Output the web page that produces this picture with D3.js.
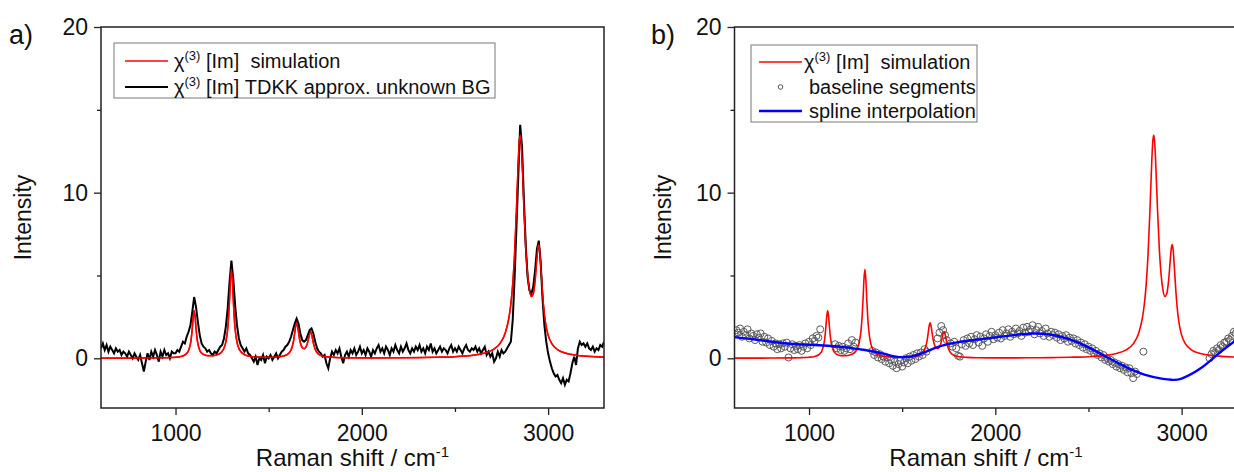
<!DOCTYPE html>
<html><head><meta charset="utf-8">
<script src="https://cdn.jsdelivr.net/npm/d3@7"></script>
<style>
html,body{margin:0;padding:0;background:#fff;}
text{font-family:"Liberation Sans",Arial,sans-serif;fill:#111;}
</style></head>
<body><svg id="c" width="1234" height="472"></svg>
<script>
// ---------- data ----------
const xDomain = [600, 3300];
const yDomain = [-3, 20];
const xTicksMajor = [1000, 2000, 3000];
const xTicksMinor = [1500, 2500];
const yTicksMajor = [0, 10, 20];
const yTicksMinor = [5, 15];

// simulated chi(3) Im spectrum
const simX = [600,700,800,900,950,1000,1030,1050,1060,1070,1080,1085,1090,1095,1100,1105,1110,1115,1120,1130,1140,1150,1170,1200,1230,1250,1260,1270,1280,1285,1290,1295,1300,1305,1310,1315,1320,1330,1340,1350,1370,1400,1450,1500,1550,1580,1600,1615,1625,1635,1640,1645,1650,1655,1660,1670,1680,1690,1700,1710,1715,1720,1725,1730,1740,1750,1760,1780,1800,1850,1900,2000,2100,2200,2300,2400,2500,2600,2650,2700,2740,2770,2790,2800,2810,2820,2830,2840,2845,2850,2855,2860,2870,2880,2890,2900,2910,2920,2930,2940,2945,2950,2955,2960,2970,2980,2990,3000,3020,3050,3100,3150,3200,3300];
const simY = [0.01,0.01,0.014,0.024,0.035,0.065,0.115,0.20,0.30,0.475,0.87,1.25,1.82,2.51,2.88,2.52,1.83,1.26,0.885,0.49,0.32,0.233,0.162,0.156,0.24,0.415,0.61,0.975,1.78,2.51,3.56,4.77,5.37,4.77,3.56,2.50,1.77,0.97,0.60,0.41,0.22,0.12,0.07,0.062,0.085,0.14,0.23,0.40,0.65,1.15,1.55,1.95,2.14,1.97,1.58,0.94,0.65,0.58,0.675,0.99,1.24,1.49,1.60,1.47,0.92,0.54,0.34,0.17,0.11,0.055,0.037,0.028,0.027,0.033,0.043,0.063,0.098,0.19,0.29,0.49,0.87,1.53,2.47,3.28,4.48,6.31,8.93,11.94,13.04,13.47,13.09,12.04,9.16,6.68,5.04,4.11,3.73,3.88,4.67,6.06,6.67,6.86,6.49,5.69,3.91,2.65,1.88,1.40,0.88,0.53,0.29,0.185,0.13,0.074];

// TDKK approximation with unknown background (black curve), 600..3300 step 10
const tdkkStart = 600, tdkkStep = 10;
const tdkkY = [
0.6,0.9,0.5,0.8,0.4,0.7,0.5,0.3,0.6,0.4,
0.5,0.2,0.4,0.3,0.1,0.4,0.2,0.0,0.3,0.1,
-0.1,0.2,-0.3,-0.8,-0.2,0.3,-0.1,0.4,0.1,0.5,
0.2,-0.2,0.4,0.1,0.5,0.2,0.3,0.0,0.4,0.3,
0.3,0.5,0.4,0.7,1.0,0.9,1.3,1.6,2.0,2.8,
3.7,3.1,2.2,1.4,0.9,0.7,0.6,0.4,0.5,0.3,
0.2,0.4,0.3,0.5,0.7,0.8,1.2,1.9,3.0,4.6,
5.9,4.8,3.2,2.0,1.2,0.8,0.6,0.4,0.6,0.3,
0.2,0.0,-0.2,0.1,-0.4,0.0,-0.1,0.2,-0.3,0.1,
0.0,0.2,-0.1,0.1,0.3,0.0,0.2,0.4,0.5,0.7,
0.8,1.0,1.3,1.7,2.1,2.4,2.1,1.5,1.1,1.0,
1.1,1.4,1.7,1.8,1.5,1.0,0.6,0.4,0.3,0.1,
0.2,-0.3,-0.6,0.0,0.4,0.2,0.5,0.3,0.6,0.1,
-0.3,0.2,0.4,0.1,0.5,0.3,0.6,0.2,0.4,0.7,
0.3,0.5,0.2,0.6,0.4,0.1,0.5,0.3,0.6,0.8,
0.4,0.6,0.3,0.7,0.5,0.2,0.6,0.4,0.8,0.5,
0.3,0.7,0.4,0.6,0.9,0.5,0.3,0.6,0.4,0.7,
0.5,0.8,0.4,0.6,0.3,0.7,0.5,0.9,0.4,0.6,
0.3,0.5,0.7,0.4,0.6,0.5,0.3,0.6,0.8,0.4,
0.6,0.4,0.7,0.5,0.3,0.6,0.8,0.5,0.4,0.6,
0.5,0.7,0.4,0.6,0.3,0.5,0.7,0.2,0.4,0.1,
0.3,-0.2,0.0,0.4,0.1,0.5,0.3,0.4,0.6,0.8,
1.0,2.3,4.8,7.9,11.0,14.1,12.8,9.6,6.8,4.9,
4.1,3.9,4.3,5.3,6.6,7.1,5.8,3.6,2.0,1.0,
0.3,-0.2,-0.6,-0.9,-1.1,-1.0,-1.3,-1.5,-1.2,-1.6,
-1.3,-1.4,-0.9,-0.3,0.1,-0.4,0.6,1.0,0.8,0.9,
0.7,0.9,0.6,0.5,0.7,0.4,0.6,0.5,0.8,0.7,
1.0];

// baseline segments (open circles)
const baseX = [600,610,620,630,640,650,660,670,680,690,700,710,720,730,740,750,760,770,780,790,800,810,820,830,840,850,860,870,880,890,900,910,920,930,940,950,960,970,980,990,1000,1010,1020,1030,1040,1050,1060,
1140,1150,1160,1170,1180,1190,1200,1210,1220,1230,1240,1250,
1340,1350,1360,1370,1380,1390,1400,1410,1420,1430,1440,1450,1460,1470,1480,1490,1500,1510,1520,1530,1540,1550,1560,1570,1580,1590,1600,1610,1620,1630,
1690,1700,1710,1720,1730,1740,
1760,1770,1780,1790,1800,1810,1820,1830,1840,1850,1860,1870,1880,1890,1900,1910,1920,1930,1940,1950,1960,1970,1980,1990,2000,2010,2020,2030,2040,2050,2060,2070,2080,2090,2100,2110,2120,2130,2140,2150,2160,2170,2180,2190,2200,2210,2220,2230,2240,2250,2260,2270,2280,2290,2300,2310,2320,2330,2340,2350,2360,2370,2380,2390,2400,2410,2420,2430,2440,2450,2460,2470,2480,2490,2500,2510,2520,2530,2540,2550,2560,2570,2580,2590,2600,2610,2620,2630,2640,2650,2660,2670,2680,2690,2700,2710,2720,2730,2740,2750,2760,
2795,
3150,3160,3170,3180,3190,3200,3210,3220,3230,3240,3250,3260,3270,3280,3290,3300];
const baseY = [1.45,1.7,1.55,1.8,1.3,1.6,1.4,1.75,1.2,1.5,1.35,1.1,1.45,1.25,1.5,1.0,1.3,0.95,1.2,0.8,1.05,0.7,0.9,0.55,0.85,0.6,0.9,0.7,0.95,0.05,0.6,0.85,0.5,0.75,0.55,0.8,0.45,0.7,0.9,0.6,1.0,0.8,1.2,1.05,1.35,1.25,1.75,
0.85,0.6,0.75,0.5,0.7,0.45,0.6,0.9,0.55,1.1,0.7,0.95,
0.45,0.2,0.35,0.05,0.25,-0.05,0.1,-0.2,0.05,-0.3,-0.1,-0.45,-0.2,-0.6,-0.35,-0.15,-0.5,-0.25,0.0,-0.3,0.1,-0.15,0.2,-0.05,0.3,0.1,0.35,0.2,0.55,0.4,
1.2,1.55,1.95,1.7,1.4,1.1,
0.9,0.7,1.0,0.6,0.15,0.1,0.85,1.1,0.75,1.2,0.9,1.3,0.8,1.15,1.4,0.95,1.3,0.75,1.2,1.45,1.0,1.35,1.6,1.15,1.4,1.25,1.55,1.2,1.7,1.35,1.5,1.75,1.3,1.6,1.45,1.8,1.5,1.65,1.35,1.85,1.55,1.9,1.6,1.75,2.0,1.45,1.7,1.9,1.5,1.65,1.35,1.8,1.5,1.3,1.6,1.4,1.55,1.25,1.45,1.1,1.35,1.2,1.4,1.0,1.25,1.05,1.2,0.9,1.1,0.8,0.95,0.65,0.85,0.55,0.7,0.45,0.6,0.3,0.45,0.2,0.3,0.05,0.2,-0.1,0.0,-0.2,-0.1,-0.35,-0.25,-0.5,-0.35,-0.6,-0.45,-0.7,-0.55,-0.85,-0.6,-0.9,-1.2,-0.8,-0.95,
0.4,
0.0,0.25,0.45,0.35,0.6,0.5,0.8,0.7,0.95,1.0,1.2,1.1,1.35,1.6,1.5,1.75];

// spline interpolation through the baseline (blue curve)
const splineX = [600,700,800,900,1000,1100,1200,1300,1400,1500,1600,1700,1800,1900,2000,2100,2200,2300,2400,2500,2600,2700,2800,2900,2950,3000,3100,3200,3300];
const splineY = [1.28,1.15,1.0,0.88,0.82,0.76,0.66,0.5,0.28,0.06,0.28,0.72,0.98,1.12,1.26,1.4,1.5,1.42,1.14,0.66,0.06,-0.52,-0.98,-1.24,-1.3,-1.22,-0.62,0.3,1.15];

const legendA = ["simulation", "TDKK approx. unknown BG"];
const legendB = ["simulation", "baseline segments", "spline interpolation"];

// ---------- drawing ----------
const svg = d3.select("#c");
const FONT = '"Liberation Sans",Arial,sans-serif';

function panel(opt) {
  const x = d3.scaleLinear().domain(xDomain).range([opt.left, opt.right]);
  const y = d3.scaleLinear().domain(yDomain).range([opt.bottom, opt.top]);
  const g = svg.append("g");
  const clipId = "clip" + opt.id;
  svg.append("clipPath").attr("id", clipId).append("rect")
    .attr("x", opt.left).attr("y", opt.top)
    .attr("width", opt.right - opt.left).attr("height", opt.bottom - opt.top);

  // axes
  const xa = g.append("g").attr("transform", `translate(0,${opt.bottom})`)
    .call(d3.axisBottom(x).tickValues(xTicksMajor).tickSize(7).tickSizeOuter(0).tickPadding(10).tickFormat(d3.format("d")));
  xa.select(".domain").remove();
  g.append("g").attr("transform", `translate(0,${opt.bottom})`)
    .call(d3.axisBottom(x).tickValues(xTicksMinor).tickSize(4).tickSizeOuter(0).tickFormat(""))
    .select(".domain").remove();
  const ya = g.append("g").attr("transform", `translate(${opt.left},0)`)
    .call(d3.axisLeft(y).tickValues(yTicksMajor).tickSize(7).tickSizeOuter(0).tickPadding(6).tickFormat(d3.format("d")));
  ya.select(".domain").remove();
  g.append("g").attr("transform", `translate(${opt.left},0)`)
    .call(d3.axisLeft(y).tickValues(yTicksMinor).tickSize(4).tickSizeOuter(0).tickFormat(""))
    .select(".domain").remove();
  g.selectAll(".tick line").attr("stroke", "#222").attr("stroke-width", 1.3);
  g.selectAll(".tick text").attr("font-family", FONT).attr("font-size", 23).attr("fill", "#111");

  const plot = g.append("g").attr("clip-path", `url(#${clipId})`);
  opt.drawData(plot, x, y);

  // frame
  g.append("rect").attr("x", opt.left).attr("y", opt.top)
    .attr("width", opt.right - opt.left).attr("height", opt.bottom - opt.top)
    .attr("fill", "none").attr("stroke", "#222").attr("stroke-width", 1.5);

  // titles
  g.append("text").attr("x", (opt.left + opt.right) / 2).attr("y", 466)
    .attr("text-anchor", "middle").attr("font-size", 24)
    .text("Raman shift / cm").append("tspan").attr("dy", -9).attr("font-size", 15).text("-1");
  g.append("text").attr("transform", `translate(${opt.yTitleX},${(opt.top + opt.bottom) / 2}) rotate(-90)`)
    .attr("text-anchor", "middle").attr("font-size", 23).text("Intensity");
  g.append("text").attr("x", opt.labelX).attr("y", 44).attr("font-size", 27).text(opt.label);

  return {x, y, g};
}

function chiLabel(sel, x, yb, rest) {
  const t = sel.append("text").attr("x", x).attr("y", yb).attr("font-size", 20)
    .style("white-space", "pre");
  t.append("tspan").text("\u03c7");
  t.append("tspan").attr("dy", -8).attr("font-size", 13).text("(3)");
  t.append("tspan").attr("dy", 8).text(rest);
}

// panel a
const A = panel({id: "a", left: 101, right: 604, top: 27, bottom: 408, label: "a)", labelX: 9, yTitleX: 31,
  drawData(p, x, y) {
    p.append("path").datum(simX.map((v, i) => [v, simY[i]]))
      .attr("fill", "none").attr("stroke", "#ff0000").attr("stroke-width", 1.6)
      .attr("d", d3.line().x(d => x(d[0])).y(d => y(d[1])).curve(d3.curveMonotoneX));
    p.append("path").datum(tdkkY.map((v, i) => [tdkkStart + i * tdkkStep, v]))
      .attr("fill", "none").attr("stroke", "#000").attr("stroke-width", 2)
      .attr("d", d3.line().x(d => x(d[0])).y(d => y(d[1])));
    p.append("path").datum(simX.map((v, i) => [v, simY[i]]))
      .attr("fill", "none").attr("stroke", "#ff0000").attr("stroke-width", 1.4)
      .attr("d", d3.line().x(d => x(d[0])).y(d => y(d[1])).curve(d3.curveMonotoneX));
  }});
{
  const lg = A.g.append("g");
  lg.append("rect").attr("x", 114).attr("y", 43).attr("width", 381).attr("height", 55)
    .attr("fill", "#fff").attr("stroke", "#777").attr("stroke-width", 1);
  lg.append("line").attr("x1", 125).attr("x2", 168).attr("y1", 61).attr("y2", 61).attr("stroke", "#ff0000").attr("stroke-width", 1.6);
  lg.append("line").attr("x1", 125).attr("x2", 168).attr("y1", 87).attr("y2", 87).attr("stroke", "#000").attr("stroke-width", 2);
  chiLabel(lg, 174, 68, " [Im]  " + legendA[0]);
  chiLabel(lg, 174, 94, " [Im] " + legendA[1]);
}

// panel b
const B = panel({id: "b", left: 734.5, right: 1237.5, top: 27, bottom: 408, label: "b)", labelX: 651, yTitleX: 671,
  drawData(p, x, y) {
    p.append("g").selectAll("circle").data(baseX.map((v, i) => [v, baseY[i]])).join("circle")
      .attr("cx", d => x(d[0])).attr("cy", d => y(d[1])).attr("r", 3.5)
      .attr("fill", "none").attr("stroke", "#5a5a5a").attr("stroke-width", 1);
    p.append("path").datum(simX.map((v, i) => [v, simY[i]]))
      .attr("fill", "none").attr("stroke", "#ff0000").attr("stroke-width", 1.6)
      .attr("d", d3.line().x(d => x(d[0])).y(d => y(d[1])).curve(d3.curveMonotoneX));
    p.append("path").datum(splineX.map((v, i) => [v, splineY[i]]))
      .attr("fill", "none").attr("stroke", "#0000ff").attr("stroke-width", 2.4)
      .attr("d", d3.line().x(d => x(d[0])).y(d => y(d[1])).curve(d3.curveNatural));
  }});
{
  const lg = B.g.append("g");
  lg.append("rect").attr("x", 751).attr("y", 45).attr("width", 226).attr("height", 77)
    .attr("fill", "#fff").attr("stroke", "#777").attr("stroke-width", 1);
  lg.append("line").attr("x1", 759).attr("x2", 802).attr("y1", 62).attr("y2", 62).attr("stroke", "#ff0000").attr("stroke-width", 1.6);
  lg.append("circle").attr("cx", 780.5).attr("cy", 87).attr("r", 2.3).attr("fill", "none").attr("stroke", "#555").attr("stroke-width", 1);
  lg.append("line").attr("x1", 759).attr("x2", 802).attr("y1", 111).attr("y2", 111).attr("stroke", "#0000ff").attr("stroke-width", 2.4);
  chiLabel(lg, 804, 69, " [Im]  " + legendB[0]);
  lg.append("text").attr("x", 809).attr("y", 94).attr("font-size", 20).text(legendB[1]);
  lg.append("text").attr("x", 809).attr("y", 118).attr("font-size", 20).text(legendB[2]);
}
</script></body></html>
